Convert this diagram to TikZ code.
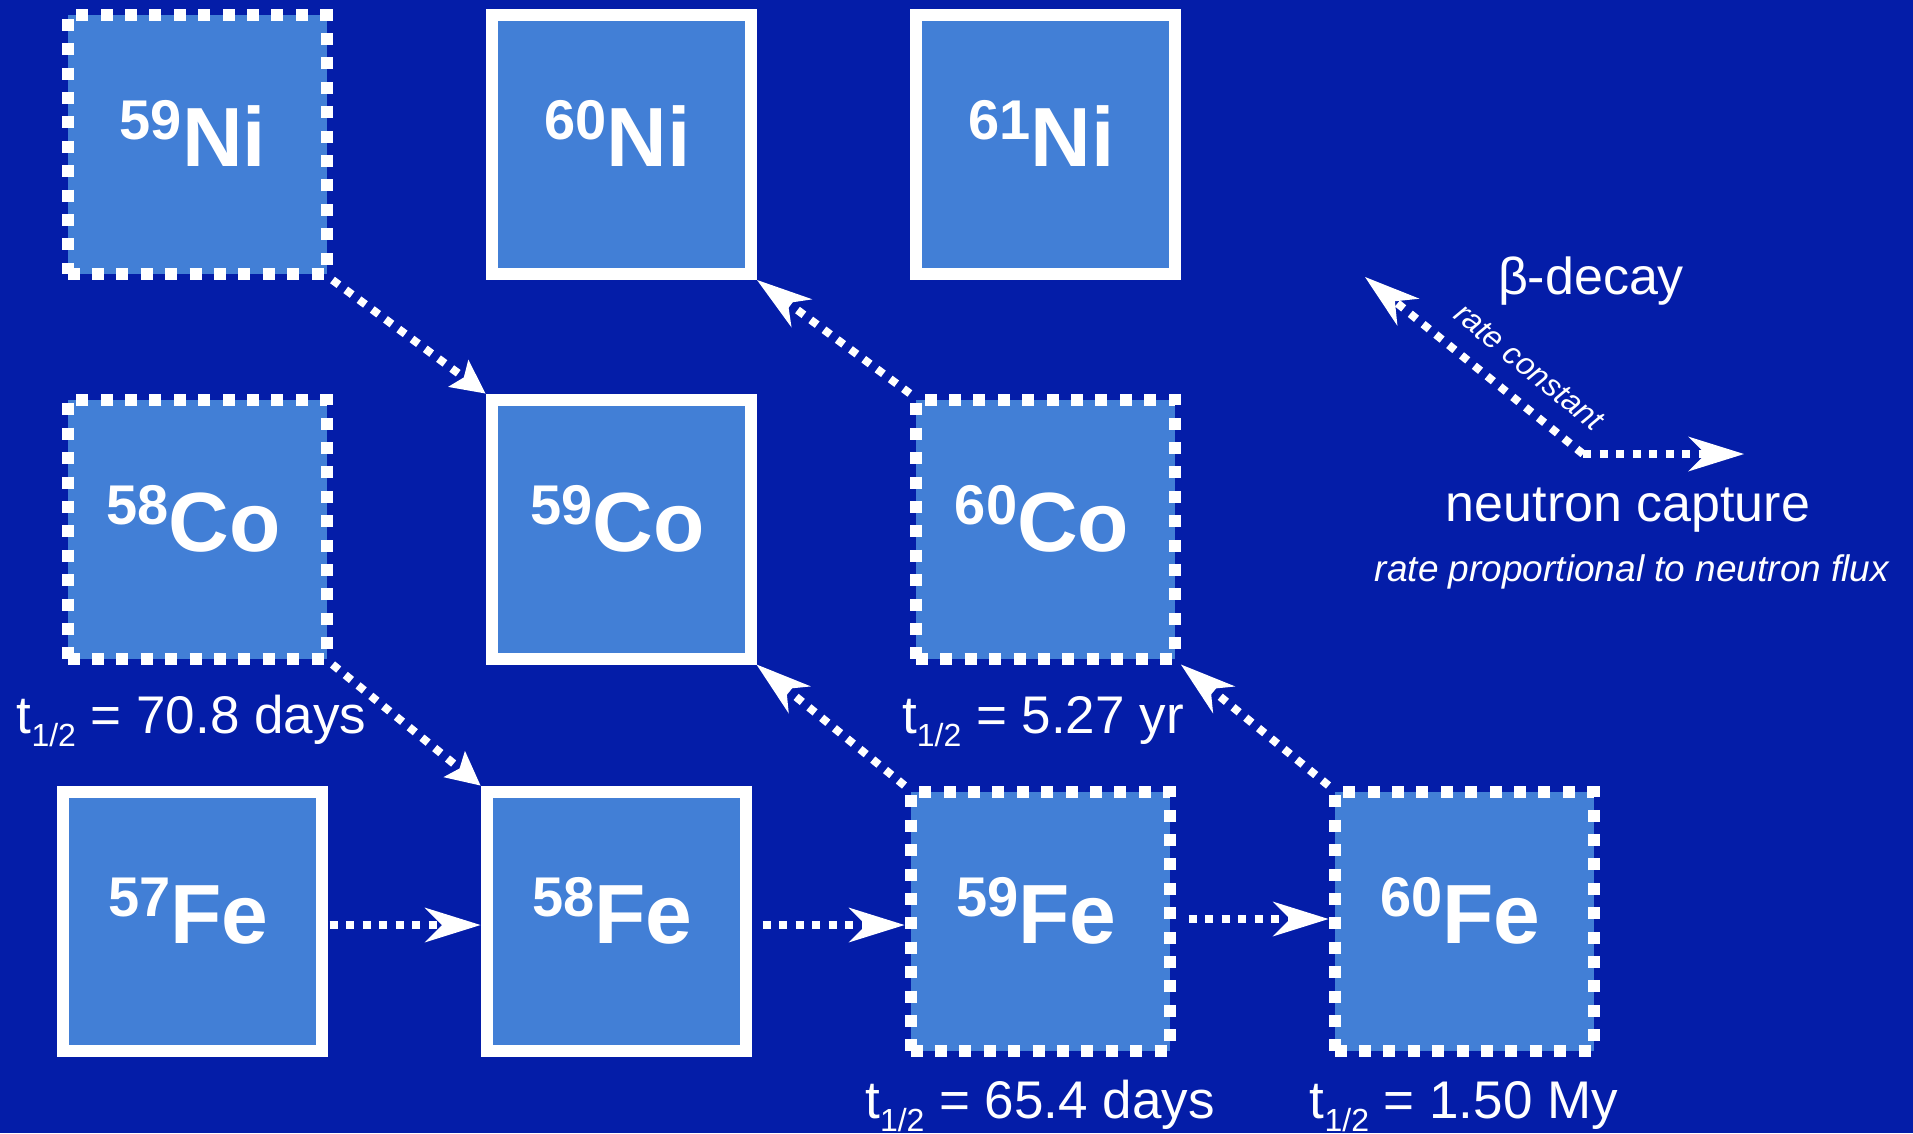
\documentclass[tikz,border=0pt]{standalone}
\usepackage{fontspec}
\setmainfont{Liberation Sans}
\usetikzlibrary{arrows.meta}

\definecolor{bgblue}{RGB}{4,29,168}
\definecolor{cellblue}{RGB}{66,127,214}

% mass number as a raised prefix, element symbol at full size
\newcommand\nuc[2]{\raisebox{26.7pt}{\fontsize{56}{60}\selectfont #1}#2}
% half-life label with a lowered 1/2
\newcommand\halflife[1]{t\raisebox{-13pt}{\fontsize{32}{34}\selectfont 1/2} = #1}

\tikzset{
  cell/.style={rectangle, draw=white, fill=cellblue, line width=12pt,
    minimum width=259pt, minimum height=259pt, inner sep=0pt},
  stablecell/.style={cell},
  unstablecell/.style={cell, dash pattern=on 12pt off 12.4pt},
  nuclide/.style={anchor=base, text=white, inner sep=0pt,
    font=\bfseries\fontsize{84}{90}\selectfont},
  halflabel/.style={anchor=base, text=white, inner sep=0pt,
    font=\fontsize{53}{60}\selectfont},
  legendlabel/.style={anchor=base, text=white, inner sep=0pt,
    font=\fontsize{52}{60}\selectfont},
  legendnote/.style={anchor=base, text=white, inner sep=0pt,
    font=\itshape\fontsize{37}{44}\selectfont},
  flow/.style={draw=white, line width=8pt, dash pattern=on 8pt off 8.5pt},
  arrowlong/.style={flow,
    -{Stealth[length=56pt, width=35pt, inset=17.5pt, line width=0pt]}},
  arrowshort/.style={flow,
    -{Stealth[length=34pt, width=34pt, inset=7pt, line width=0pt]}},
}

\begin{document}
\begin{tikzpicture}[x=1pt, y=-1pt]
  \useasboundingbox (0,0) rectangle (1913,1133);
  \fill[bgblue] (0,0) rectangle (1913,1133);

  % nickel row
  \node[unstablecell] (Ni59) at (197,144.5) {};
  \node[stablecell]   (Ni60) at (621.5,144.5) {};
  \node[stablecell]   (Ni61) at (1045.2,144.5) {};
  % cobalt row
  \node[unstablecell] (Co58) at (197,529) {};
  \node[stablecell]   (Co59) at (621,529) {};
  \node[unstablecell] (Co60) at (1045.4,529) {};
  % iron row
  \node[stablecell]   (Fe57) at (192,921) {};
  \node[stablecell]   (Fe58) at (616,921) {};
  \node[unstablecell] (Fe59) at (1040,921) {};
  \node[unstablecell] (Fe60) at (1464,921) {};

  % element labels
  \node[nuclide] (tNi59) at (193,166.5) {\nuc{59}{Ni}};
  \node[nuclide] (tNi60) at (617.5,166.5) {\nuc{60}{Ni}};
  \node[nuclide] (tNi61) at (1041.2,166.5) {\nuc{61}{Ni}};
  \node[nuclide] (tCo58) at (193.5,551) {\nuc{58}{Co}};
  \node[nuclide] (tCo59) at (617.5,551) {\nuc{59}{Co}};
  \node[nuclide] (tCo60) at (1042,551) {\nuc{60}{Co}};
  \node[nuclide] (tFe57) at (188.5,943) {\nuc{57}{Fe}};
  \node[nuclide] (tFe58) at (612.5,943) {\nuc{58}{Fe}};
  \node[nuclide] (tFe59) at (1036.5,943) {\nuc{59}{Fe}};
  \node[nuclide] (tFe60) at (1460.5,943) {\nuc{60}{Fe}};

  % half-lives
  \node[halflabel] (hCo58) at (191.5,733) {\halflife{70.8 days}};
  \node[halflabel] (hCo60) at (1043,733) {\halflife{5.27 yr}};
  \node[halflabel] (hFe59) at (1040,1118) {\halflife{65.4 days}};
  \node[halflabel] (hFe60) at (1464,1118) {\halflife{1.50 My}};

  % neutron captures
  \draw[arrowlong] ([xshift=2pt,yshift=-4pt]Fe57.east) -- ([yshift=-4pt]Fe58.west);
  \draw[arrowlong] ([xshift=11pt,yshift=-4pt]Fe58.east) -- ([yshift=-4pt]Fe59.west);
  \draw[arrowlong] ([xshift=13pt,yshift=2pt]Fe59.east) -- ([yshift=2pt]Fe60.west);

  % beta-minus decays
  \draw[arrowlong] (Co60.north west) -- (Ni60.south east);
  \draw[arrowlong] (Fe59.north west) -- (Co59.south east);
  \draw[arrowlong] (Fe60.north west) -- (Co60.south east);

  % electron-capture decays
  \draw[arrowshort] (Ni59.south east) -- (Co59.north west);
  \draw[arrowshort] (Co58.south east) -- (Fe58.north west);

  % key
  \coordinate (keycorner) at (1583,454);
  \coordinate (keydecay) at (1365,277);
  \coordinate (keycapture) at (1744,454);
  \draw[arrowlong] (keycorner) -- (keydecay);
  \draw[arrowlong] (keycorner) -- (keycapture);
  \node[legendlabel] (kDecay) at (1591,294) {β-decay};
  \node[text=white, inner sep=0pt, rotate=-39.1,
        font=\itshape\fontsize{31.5}{36}\selectfont] (kRate) at (1529,367) {rate constant};
  \node[legendlabel] (kCapture) at (1628,521) {neutron capture};
  \node[legendnote] (kFlux) at (1632,581) {rate proportional to neutron flux};
\end{tikzpicture}
\end{document}
